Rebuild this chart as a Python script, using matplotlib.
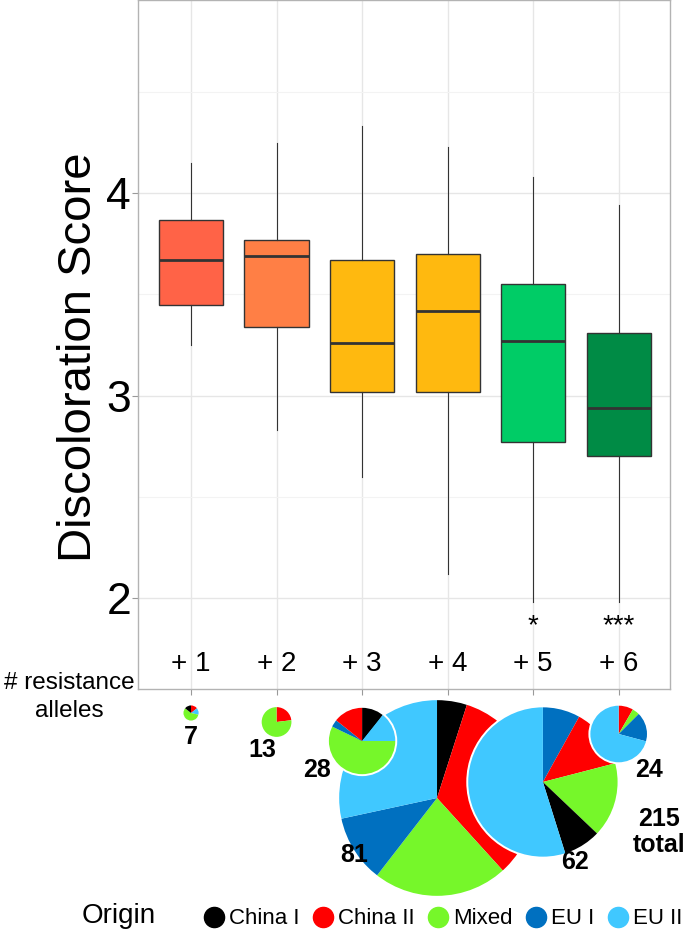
import numpy as np
import matplotlib
matplotlib.use('Agg')
from matplotlib import pyplot as plt
from matplotlib.lines import Line2D
from matplotlib.patches import Circle

plt.rcParams['font.family'] = ['Liberation Sans', 'DejaVu Sans']

##################################################################################
### DATA
##################################################################################
groups = ['+ 1', '+ 2', '+ 3', '+ 4', '+ 5', '+ 6']
whisk_hi = [4.15, 4.25, 4.33, 4.23, 4.08, 3.94]
q3 = [3.87, 3.77, 3.67, 3.70, 3.55, 3.31]
medians = [3.67, 3.69, 3.26, 3.42, 3.27, 2.94]
q1 = [3.45, 3.34, 3.02, 3.02, 2.77, 2.70]
whisk_lo = [3.25, 2.83, 2.60, 2.12, 1.98, 1.98]
signif = ['', '', '', '', '*', '***']
box_colors = ['#FF6347', '#FF7F45', '#FFB90F', '#FFB90F', '#00CC66', '#008B45']

origins = ['China I', 'China II', 'Mixed', 'EU I', 'EU II']
origin_colors = ['#000000', '#FF0000', '#76F72A', '#0070C0', '#40C8FF']

# slices of each pie, clockwise from 12 o'clock
pie_order = [['China II', 'EU II', 'Mixed', 'China I'],
             ['China II', 'Mixed'],
             ['China I', 'EU II', 'Mixed', 'EU I', 'China II'],
             ['China I', 'China II', 'Mixed', 'EU I', 'EU II'],
             ['EU I', 'China II', 'Mixed', 'China I', 'EU II'],
             ['China II', 'Mixed', 'EU I', 'EU II']]
pie_counts = [[1, 1, 4, 1],
              [3, 10],
              [3, 4, 16, 1, 4],
              [4, 27, 18, 9, 23],
              [5, 8, 10, 5, 34],
              [2, 1, 4, 17]]
total = 215

##################################################################################
### LAYOUT (pixels of the 685x931 figure)
##################################################################################
W, H = 685, 931
L, R, B = 138, 670, 689

def fx(px):
    return px / W

def fy(py):
    return 1 - py / H

xpos = np.arange(1, 7)
xlim = (0.38, 6.6)
ppu = (R - L) / (xlim[1] - xlim[0])   # pixels per x unit

# pie centres (x shift in units, y in pixels from top) and label offsets (px)
pie_dx = [0, 0, 0, -0.124, 0.114, 0]
pie_cy = [713, 722, 741, 798, 782, 734]
lab_off = [(0, 24), (-14, 28), (-45, 29), (-83, 57), (32, 80), (30, 36)]
r_scale = 1.22   # pixels of radius per plant
draw_order = [0, 1, 3, 2, 4, 5]

##################################################################################
### BOXPLOT
##################################################################################
fig = plt.figure(figsize=(6.85, 9.31), dpi=100)
ax = fig.add_axes([fx(L), fy(B), (R - L) / W, B / H])

stats = [dict(med=m, q1=a, q3=b, whislo=lo, whishi=hi, label=g)
         for m, a, b, lo, hi, g in zip(medians, q1, q3, whisk_lo, whisk_hi, groups)]
bp = ax.bxp(stats, positions=xpos, widths=0.75, showcaps=False, showfliers=False,
            patch_artist=True,
            boxprops=dict(edgecolor='#333333', linewidth=1.0),
            medianprops=dict(color='#333333', linewidth=2.0),
            whiskerprops=dict(color='#333333', linewidth=0.8))
for patch, c in zip(bp['boxes'], box_colors):
    patch.set_facecolor(c)

ax.set_xlim(*xlim)
ax.set_ylim(1.55, 4.955)
ax.set_yticks([2, 3, 4])
ax.set_yticklabels(['2', '3', '4'], fontsize=32)
ax.set_yticks([2.5, 3.5, 4.5], minor=True)
ax.set_xticks(xpos)
ax.set_xticklabels([])
ax.grid(which='major', color='#E6E6E6', lw=1.0)
ax.grid(which='minor', axis='y', color='#F3F3F3', lw=0.8)
ax.set_axisbelow(True)
ax.tick_params(which='major', length=4, color='#999999', width=0.8, pad=1)
ax.tick_params(which='minor', length=0)
for s in ax.spines.values():
    s.set_color('#B3B3B3')
    s.set_linewidth(1.0)

ax.set_ylabel('Discoloration Score', fontsize=34)
ax.yaxis.set_label_coords(-0.07, 0.482)

for x, g, st in zip(xpos, groups, signif):
    ax.text(x, 1.673, g, ha='center', va='center', fontsize=20)
    if st:
        ax.text(x, 1.86, st, ha='center', va='center', fontsize=20)

##################################################################################
### PIES
##################################################################################
pax = fig.add_axes([fx(L), 0, (R - L) / W, (H - B) / H])
pax.patch.set_alpha(0)
for k, i in enumerate(draw_order):
    cols = [origin_colors[origins.index(o)] for o in pie_order[i]]
    n = sum(pie_counts[i])
    r = n * r_scale / ppu
    cx = xpos[i] + pie_dx[i]
    cy = (H - pie_cy[i]) / ppu
    z = 2 + 2 * k
    pax.pie(pie_counts[i], colors=cols, radius=r, center=(cx, cy), startangle=90,
            counterclock=False, frame=True,
            wedgeprops=dict(linewidth=0, zorder=z))
    pax.add_patch(Circle((cx, cy), r, fill=False, ec='white', lw=1.4, zorder=z + 1))
    ox, oy = lab_off[i]
    pax.text(cx + ox / ppu, cy - oy / ppu, str(n), ha='center', va='center',
             fontsize=18, fontweight='bold', zorder=20)
pax.set_aspect('auto')
pax.set_xlim(*xlim)
pax.set_ylim(0, (H - B) / ppu)
pax.axis('off')

fig.text(fx(659), fy(832), '%d\ntotal' % total, ha='center', va='center',
         fontsize=18, fontweight='bold', linespacing=1.15)
fig.text(fx(69), fy(697), '# resistance\nalleles', ha='center', va='center',
         fontsize=17.5, linespacing=1.35)

##################################################################################
### LEGEND
##################################################################################
fig.text(fx(119), fy(916), 'Origin', ha='center', va='center', fontsize=20)
handles = [Line2D([], [], ls='', marker='o', markersize=14.5, color=c) for c in origin_colors]
fig.legend(handles, origins, loc='center left', bbox_to_anchor=(fx(203), fy(919)),
           ncol=5, frameon=False, fontsize=16, handlelength=1.0, handletextpad=0.18,
           columnspacing=0.55, borderpad=0, borderaxespad=0)

fig.savefig('out.png', dpi=100)
